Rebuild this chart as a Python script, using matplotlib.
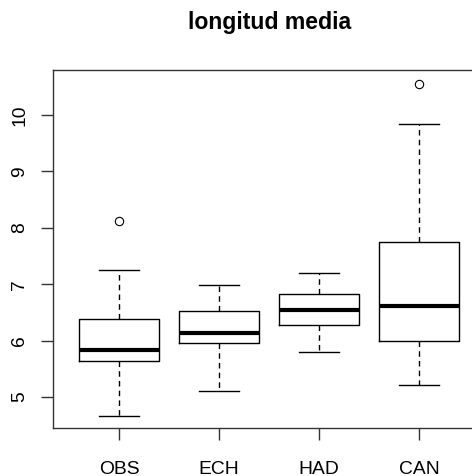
import matplotlib.pyplot as plt

# five-number summaries
groups = ['OBS', 'ECH', 'HAD', 'CAN']
whislo = [4.67, 5.11, 5.80, 5.21]
q1 = [5.63, 5.95, 6.28, 6.00]
med = [5.84, 6.13, 6.55, 6.62]
q3 = [6.39, 6.53, 6.83, 7.75]
whishi = [7.26, 6.99, 7.20, 9.85]
outliers = [[8.13], [], [], [10.56]]

stats = []
for i, g in enumerate(groups):
    stats.append({'label': g, 'whislo': whislo[i], 'q1': q1[i], 'med': med[i],
                  'q3': q3[i], 'whishi': whishi[i], 'fliers': outliers[i]})

plt.rcParams['font.family'] = ['Liberation Sans', 'DejaVu Sans']

fig = plt.figure(figsize=(4.72, 4.76), dpi=100)
# right edge of the box sits past the picture, like the source
ax = fig.add_axes([53 / 472, 1 - 428 / 476, 432 / 472, 358 / 476])

ax.bxp(stats, positions=[1, 2, 3, 4], widths=0.8, capwidths=0.4,
       boxprops=dict(color='black', linewidth=1),
       medianprops=dict(color='black', linewidth=3, solid_capstyle='butt'),
       whiskerprops=dict(color='black', linewidth=1, linestyle=(0, (4, 3))),
       capprops=dict(color='black', linewidth=1),
       flierprops=dict(marker='o', markerfacecolor='none', markeredgecolor='black',
                       markersize=6, markeredgewidth=0.8))

ax.set_xlim(0.34, 4.66)
ax.set_ylim(4.45, 10.80)
ax.set_yticks([5, 6, 7, 8, 9, 10])
ax.set_yticklabels(['5', '6', '7', '8', '9', '10'], rotation=90, va='center')
ax.set_xticks([1, 2, 3, 4])
ax.set_xticklabels(groups)
ax.tick_params(axis='both', length=8.7, width=1, color='#333333', labelsize=13.9)
ax.tick_params(axis='x', pad=15)
ax.tick_params(axis='y', pad=9)
for s in ax.spines.values():
    s.set_color('#333333')
    s.set_linewidth(1)

fig.text(270 / 472, 1 - 23 / 476, 'longitud media', ha='center', va='center',
         fontsize=16.6, fontweight='bold')

fig.savefig('out.png', dpi=100)
